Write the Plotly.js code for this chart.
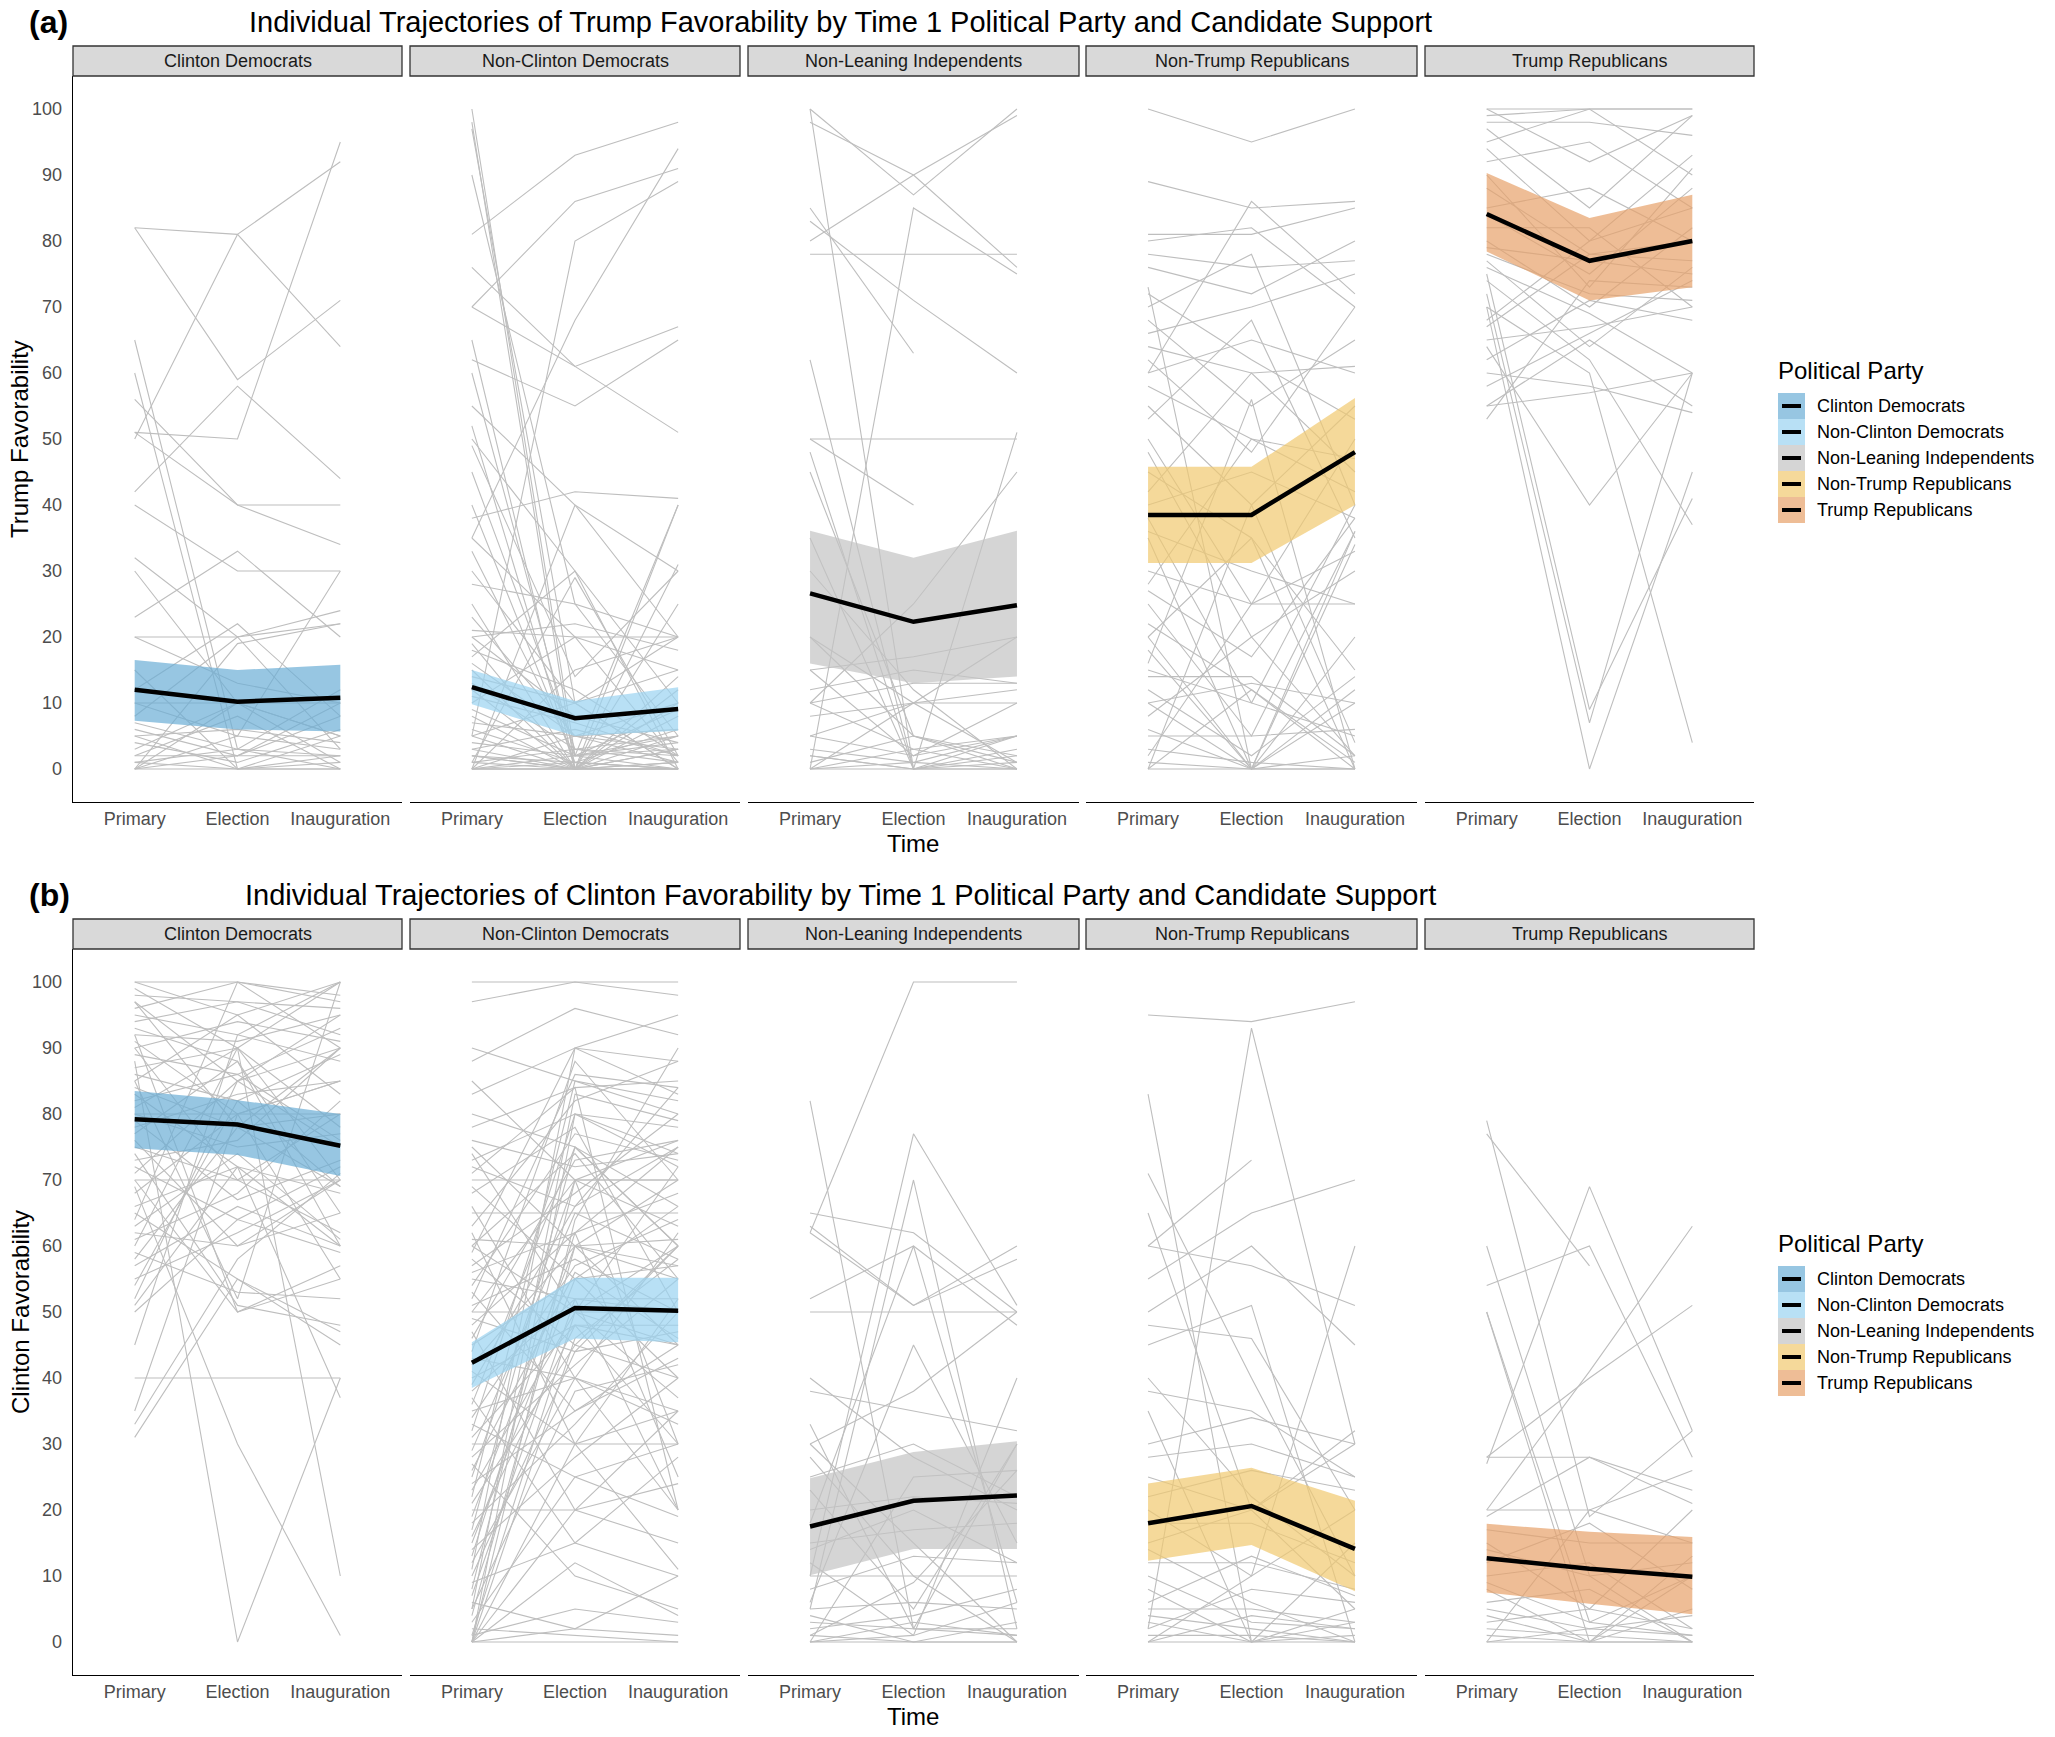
<!DOCTYPE html>
<html>
<head>
<meta charset="utf-8">
<script src="https://cdn.plot.ly/plotly-3.0.1.min.js"></script>
<style>
  body { margin: 0; background: #fff; }
  #chart { width: 2055px; height: 1737px; }
</style>
</head>
<body>
<div id="chart"></div>
<script>
// time points and facet groups
const timePoints = ["Primary", "Election", "Inauguration"];
const groups = ["Clinton Democrats", "Non-Clinton Democrats", "Non-Leaning Independents", "Non-Trump Republicans", "Trump Republicans"];
const yTicks = [0, 10, 20, 30, 40, 50, 60, 70, 80, 90, 100];

// (a) Trump favorability: model means and ribbons, per group
const trumpMean  = [[12.0, 10.2, 10.8], [12.4, 7.7, 9.1], [26.6, 22.3, 24.8], [38.5, 38.5, 48.0], [84.1, 77.0, 80.0]];
const trumpLower = [[7.3, 6.0, 5.7], [9.8, 5.0, 5.8], [16.0, 13.0, 14.0], [31.2, 31.2, 40.0], [78.4, 71.0, 73.0]];
const trumpUpper = [[16.5, 15.0, 15.8], [15.0, 10.3, 12.4], [36.1, 32.0, 36.1], [45.8, 45.8, 56.2], [90.3, 83.5, 87.0]];

// (b) Clinton favorability: model means and ribbons, per group
const clintonMean  = [[79.2, 78.4, 75.2], [42.3, 50.6, 50.2], [17.5, 21.4, 22.2], [18.0, 20.6, 14.1], [12.7, 11.1, 9.9]];
const clintonLower = [[74.8, 73.8, 70.6], [38.5, 46.0, 45.4], [10.1, 14.1, 14.1], [12.3, 14.7, 7.7], [7.5, 5.8, 4.2]];
const clintonUpper = [[83.5, 82.1, 80.0], [45.4, 55.2, 55.2], [24.8, 28.8, 30.4], [24.0, 26.4, 21.4], [17.9, 16.7, 15.9]];

// individual trajectories (Primary, Election, Inauguration)
const trumpClintonDems = [
  [82, 81, 64], [82, 59, 71], [51, 50, 95], [50, 81, 92], [65, 3, 2], [60, 0, 5], [56, 40, 40], [51, 40, 34],
  [42, 58, 44], [40, 30, 30], [32, 20, 22], [23, 33, 20], [20, 20, 24], [20, 13, 10], [12, 22, 8], [10, 5, 30],
  [8, 20, 3], [6, 2, 10], [5, 0, 2], [3, 10, 5], [2, 2, 2], [1, 0, 0], [0, 5, 3], [0, 0, 0], [0, 2, 8],
  [0, 10, 1], [1, 3, 12], [10, 10, 10], [5, 6, 4], [15, 0, 1], [0, 19, 22], [2, 8, 0], [30, 10, 5], [7, 3, 0], [4, 1, 6]
];
const trumpNonClintonDems = [
  [100, 2, 5], [98, 0, 3], [97, 10, 0], [90, 25, 20], [81, 93, 98], [70, 86, 91], [5, 80, 89], [35, 68, 94],
  [76, 61, 51], [62, 55, 65], [70, 61, 67], [55, 40, 20], [50, 30, 0], [49, 14, 30], [38, 42, 41], [35, 20, 15],
  [33, 2, 40], [30, 10, 20], [28, 25, 5], [25, 0, 31], [23, 5, 10], [21, 20, 20], [20, 8, 4], [19, 0, 12],
  [18, 12, 2], [17, 30, 10], [16, 5, 6], [15, 0, 0], [14, 10, 15], [13, 3, 5], [12, 0, 8], [11, 7, 2],
  [10, 20, 1], [9, 2, 9], [8, 0, 0], [7, 5, 3], [6, 1, 6], [5, 0, 14], [5, 10, 0], [4, 2, 4], [3, 0, 1],
  [3, 6, 2], [2, 1, 0], [2, 0, 5], [1, 3, 1], [1, 0, 0], [0, 0, 0], [0, 2, 3], [0, 0, 10], [0, 5, 1],
  [0, 1, 0], [0, 40, 30], [0, 15, 20], [1, 29, 2], [20, 22, 18], [65, 0, 3], [60, 2, 0], [52, 0, 1],
  [45, 3, 2], [40, 1, 0], [0, 0, 40], [2, 0, 25]
];
const trumpIndependents = [
  [100, 87, 100], [98, 90, 76], [100, 0, 2], [85, 63, null], [80, 90, 99], [78, 78, 78], [83, 71, 60],
  [0, 85, 75], [62, 0, 3], [50, 50, 50], [50, 40, null], [2, 0, 51], [10, 25, 45], [48, 0, 1], [45, 5, 0],
  [20, 10, 20], [15, 17, 20], [12, 15, 13], [10, 13, 13], [5, 10, 10], [2, 0, 0], [0, 0, 0], [0, 3, 5],
  [3, 1, 0], [1, 5, 2], [0, 10, 1], [5, 2, 5], [8, 10, 12], [10, 3, 0], [0, 1, 5], [15, 2, 10], [20, 5, 1],
  [30, 12, 0], [35, 0, 5]
];
const trumpNonTrumpReps = [
  [100, 95, 100], [89, 85, 86], [60, 86, 72], [81, 81, 85], [80, 82, 70], [78, 76, 77], [76, 72, 80],
  [73, 0, 10], [72, 62, 53], [70, 78, 40], [68, 55, 65], [66, 70, 75], [64, 60, 61], [62, 48, 70],
  [60, 65, 60], [58, 50, 47], [55, 40, 55], [53, 68, 35], [50, 25, 50], [48, 20, 30], [45, 35, 0],
  [42, 60, 45], [40, 45, 38], [38, 10, 40], [36, 30, 25], [35, 0, 20], [30, 25, 25], [28, 50, 42],
  [25, 5, 36], [22, 12, 0], [20, 35, 15], [18, 0, 34], [15, 10, 5], [14, 14, 2], [12, 2, 14], [10, 13, 10],
  [10, 0, 0], [8, 20, 2], [6, 0, 12], [5, 5, 6], [3, 1, 0], [2, 25, 33], [1, 0, 2], [0, 0, 0], [0, 12, 1],
  [0, 40, 4], [20, 0, 36], [27, 17, 38], [16, 56, 0]
];
const trumpTrumpReps = [
  [100, 100, 100], [100, 92, 99], [99, 100, 100], [98, 98, 96], [97, 85, 99], [95, 100, 90], [94, 80, 93],
  [92, 95, 85], [90, 73, 91], [88, 78, 77], [85, 88, 80], [84, 75, 88], [82, 82, 70], [80, 70, 82],
  [79, 77, 75], [78, 72, 71], [77, 64, 76], [76, 69, 60], [75, 9, 41], [74, 62, 37], [72, 7, 60],
  [70, 0, 45], [70, 60, 4], [68, 80, 85], [67, 78, 80], [65, 67, 70], [64, 40, 60], [62, 71, 68],
  [60, 58, 54], [58, 66, 74], [55, 57, 60], [55, 65, 55], [53, 74, 73]
];

const clintonClintonDems = [
  [100, 95, 100], [100, 100, 97], [99, 90, 100], [98, 97, 92], [97, 85, 95], [96, 100, 90], [95, 92, 88],
  [94, 97, 96], [93, 88, 60], [92, 91, 95], [91, 80, 85], [90, 94, 91], [90, 70, 80], [89, 86, 93],
  [88, 0, 40], [87, 90, 70], [86, 82, 89], [85, 95, 83], [84, 78, 80], [83, 72, 60], [82, 86, 76],
  [81, 90, 10], [80, 75, 77], [80, 80, 80], [79, 67, 73], [78, 83, 85], [77, 88, 65], [76, 60, 70],
  [75, 70, 62], [74, 51, 48], [73, 76, 90], [72, 64, 72], [71, 85, 75], [70, 50, 57], [70, 70, 70],
  [69, 30, 1], [68, 80, 55], [66, 72, 68], [65, 55, 47], [63, 74, 61], [62, 60, 65], [61, 68, 82],
  [60, 90, 78], [59, 53, 52], [58, 78, 90], [57, 66, 60], [55, 62, 70], [54, 82, 69], [52, 85, 90],
  [51, 72, 37], [50, 64, 59], [40, 40, 40], [33, 58, 71], [31, 55, 45], [35, 80, 85], [45, 92, 100],
  [64, 100, 98], [92, 50, 55], [85, 52, 100], [97, 78, 69]
];
const clintonNonClintonDems = [
  [100, 100, 100], [97, 100, 98], [90, 85, 80], [88, 96, 92], [85, 70, 76], [83, 90, 83], [80, 75, 60],
  [78, 84, 85], [76, 72, 74], [75, 60, 70], [74, 50, 45], [73, 80, 78], [72, 66, 75], [71, 84, 20],
  [70, 70, 70], [69, 55, 66], [68, 78, 50], [66, 40, 62], [65, 65, 65], [63, 82, 88], [62, 30, 35],
  [61, 60, 61], [60, 74, 55], [60, 50, 72], [59, 90, 95], [58, 45, 40], [57, 68, 80], [56, 62, 25],
  [55, 52, 52], [54, 77, 73], [53, 35, 45], [52, 86, 84], [51, 58, 50], [50, 50, 50], [50, 70, 30],
  [49, 44, 60], [48, 62, 68], [47, 20, 15], [46, 73, 76], [45, 55, 40], [44, 88, 70], [43, 40, 33],
  [42, 60, 57], [41, 30, 52], [40, 48, 45], [39, 66, 84], [38, 52, 20], [37, 15, 10], [36, 75, 60],
  [35, 40, 35], [34, 57, 64], [33, 25, 30], [32, 80, 74], [31, 48, 48], [30, 30, 30], [29, 65, 58],
  [28, 42, 55], [27, 10, 5], [26, 56, 46], [25, 70, 70], [24, 35, 43], [23, 50, 37], [22, 85, 82],
  [21, 45, 60], [20, 20, 24], [19, 60, 45], [18, 33, 50], [17, 75, 66], [16, 48, 30], [15, 55, 57],
  [14, 28, 40], [13, 62, 75], [12, 40, 20], [11, 90, 88], [10, 44, 47], [9, 15, 28], [8, 70, 63],
  [7, 52, 50], [6, 2, 10], [5, 38, 42], [5, 83, 79], [4, 60, 55], [3, 25, 19], [2, 1, 0], [1, 50, 60],
  [1, 5, 3], [0, 0, 0], [0, 2, 1], [0, 64, 90], [0, 20, 35], [0, 30, 11], [0, 80, 72], [0, 46, 58], [0, 12, 4]
];
const clintonIndependents = [
  [62, 100, 100], [82, 2, 30], [10, 77, 51], [5, 70, 2], [65, 62, 50], [62, 51, 60], [63, 51, 58],
  [50, 50, 50], [52, 60, 48], [38, 35, 32], [30, 38, 50], [28, 10, 0], [25, 30, 22], [23, 5, 30],
  [20, 22, 21], [18, 60, 6], [15, 17, 18], [14, 20, 12], [12, 1, 40], [10, 10, 10], [8, 13, 12],
  [5, 6, 5], [4, 0, 3], [3, 2, 1], [2, 4, 8], [1, 0, 0], [0, 0, 0], [0, 3, 1], [0, 1, 6], [6, 45, 15],
  [30, 15, 0], [33, 2, 2], [0, 25, 26], [40, 28, 20], [1, 9, 26]
];
const clintonNonTrumpReps = [
  [95, 94, 97], [2, 93, 30], [83, 0, 5], [71, 40, 10], [60, 73, null], [55, 65, 70], [60, 57, 51],
  [50, 60, 45], [45, 51, 0], [48, 46, 20], [38, 35, 25], [30, 34, 30], [25, 20, 32], [22, 26, 23],
  [20, 10, 60], [18, 18, 12], [15, 20, 5], [12, 12, 8], [10, 3, 2], [8, 0, 15], [6, 13, 7], [5, 5, 3],
  [4, 2, 0], [3, 0, 1], [2, 8, 6], [1, 1, 0], [0, 0, 0], [0, 4, 2], [0, 10, 20], [35, 0, 3],
  [40, 22, 10], [65, 20, 30], [28, 30, 25], [14, 6, 0]
];
const clintonTrumpReps = [
  [79, 19, 32], [77, 57, null], [27, 69, 32], [60, 10, 0], [54, 60, 28], [50, 3, 1], [50, 0, 10],
  [20, 41, 63], [28, 40, 51], [28, 28, 21], [20, 20, 26], [19, 28, 23], [17, 15, 15], [15, 5, 20],
  [14, 10, 12], [12, 18, 8], [10, 12, 2], [9, 3, 10], [8, 0, 5], [6, 8, 0], [5, 2, 4], [4, 0, 0],
  [3, 5, 2], [2, 1, 0], [1, 0, 13], [0, 0, 0], [0, 2, 1], [0, 20, 15]
];

const trumpTraj = [trumpClintonDems, trumpNonClintonDems, trumpIndependents, trumpNonTrumpReps, trumpTrumpReps];
const clintonTraj = [clintonClintonDems, clintonNonClintonDems, clintonIndependents, clintonNonTrumpReps, clintonTrumpReps];

// styling
const W = 2055, H = 1737;
const bandColors = ["rgba(107,174,214,0.7)", "rgba(154,211,241,0.7)", "rgba(195,195,195,0.7)", "rgba(241,201,111,0.7)", "rgba(231,161,106,0.7)"];
const panelX = [[73, 402], [410, 740], [748, 1079], [1086, 1417], [1425, 1754]];
const rowOffset = [0, 873];
const FONT = "Liberation Sans, Arial, sans-serif";

const px = x => x / W;
const py = y => 1 - y / H;

const data = [];
const layout = {
  width: W, height: H,
  margin: { t: 0, l: 0, r: 0, b: 0 },
  paper_bgcolor: "#fff",
  plot_bgcolor: "rgba(0,0,0,0)",
  showlegend: false,
  font: { family: FONT },
  shapes: [],
  annotations: []
};

function trajTrace(rows, xa, ya) {
  const xs = [], ys = [];
  rows.forEach(r => {
    r.forEach((v, i) => { xs.push(timePoints[i]); ys.push(v); });
    xs.push(null); ys.push(null);
  });
  return {
    type: "scatter", mode: "lines", x: xs, y: ys, xaxis: xa, yaxis: ya,
    connectgaps: false, hoverinfo: "skip",
    line: { color: "#BEBEBE", width: 1.1 }
  };
}

[[trumpTraj, trumpMean, trumpLower, trumpUpper], [clintonTraj, clintonMean, clintonLower, clintonUpper]].forEach((set, row) => {
  const [traj, mean, lower, upper] = set;
  const off = rowOffset[row];
  groups.forEach((g, k) => {
    const n = row * 5 + k + 1;
    const xa = "x" + (n === 1 ? "" : n), ya = "y" + (n === 1 ? "" : n);
    const xKey = "xaxis" + (n === 1 ? "" : n), yKey = "yaxis" + (n === 1 ? "" : n);

    data.push(trajTrace(traj[k], xa, ya));
    data.push({
      type: "scatter", mode: "lines", xaxis: xa, yaxis: ya, hoverinfo: "skip",
      x: timePoints.concat(timePoints.slice().reverse()),
      y: upper[k].concat(lower[k].slice().reverse()),
      fill: "toself", fillcolor: bandColors[k], line: { width: 0 }
    });
    data.push({
      type: "scatter", mode: "lines", xaxis: xa, yaxis: ya, x: timePoints, y: mean[k],
      line: { color: "#000", width: 4.5 }, name: g
    });

    const [x0, x1] = panelX[k];
    layout[xKey] = {
      domain: [px(x0), px(x1)], anchor: ya, type: "category",
      categoryorder: "array", categoryarray: timePoints,
      range: [-0.6, 2.6], showgrid: false, zeroline: false,
      showline: true, linecolor: "#000", linewidth: 1.3, ticks: "",
      tickfont: { size: 18, color: "#4D4D4D", family: FONT }, fixedrange: true
    };
    layout[yKey] = {
      domain: [py(802 + off), py(76 + off)], anchor: xa,
      range: [-5, 105], showgrid: false, zeroline: false,
      tickvals: yTicks, ticks: "", showticklabels: k === 0, ticklabelstandoff: 6,
      showline: k === 0, linecolor: "#000", linewidth: 1.3,
      tickfont: { size: 18, color: "#4D4D4D", family: FONT }, fixedrange: true
    };

    // facet strip
    layout.shapes.push({
      type: "rect", xref: "paper", yref: "paper",
      x0: px(x0), x1: px(x1), y0: py(76 + off), y1: py(46 + off),
      fillcolor: "#D9D9D9", line: { color: "#333", width: 1.3 }
    });
    layout.annotations.push({
      xref: "paper", yref: "paper", x: px((x0 + x1) / 2), y: py(61 + off),
      text: g, showarrow: false, xanchor: "center", yanchor: "middle",
      font: { size: 18, color: "#1A1A1A", family: FONT }
    });
  });

  // titles and axis labels
  layout.annotations.push({
    xref: "paper", yref: "paper", x: px(27), y: py(22 + off), xanchor: "left", yanchor: "middle",
    text: "<b>" + (row === 0 ? "(a)" : "(b)") + "</b>", showarrow: false,
    font: { size: 32, color: "#000", family: FONT }
  });
  layout.annotations.push({
    xref: "paper", yref: "paper", x: px(840), y: py(22 + off), xanchor: "center", yanchor: "middle",
    text: "Individual Trajectories of " + (row === 0 ? "Trump" : "Clinton") + " Favorability by Time 1 Political Party and Candidate Support",
    showarrow: false, font: { size: 29, color: "#000", family: FONT }
  });
  layout.annotations.push({
    xref: "paper", yref: "paper", x: px(20), y: py(439 + off), xanchor: "center", yanchor: "middle",
    text: (row === 0 ? "Trump" : "Clinton") + " Favorability", textangle: -90, showarrow: false,
    font: { size: 24, color: "#000", family: FONT }
  });
  layout.annotations.push({
    xref: "paper", yref: "paper", x: px(913), y: py(843 + off), xanchor: "center", yanchor: "middle",
    text: "Time", showarrow: false, font: { size: 24, color: "#000", family: FONT }
  });

  // legend
  layout.annotations.push({
    xref: "paper", yref: "paper", x: px(1776), y: py(370 + off), xanchor: "left", yanchor: "middle",
    text: "Political Party", showarrow: false, font: { size: 24, color: "#000", family: FONT }
  });
  groups.forEach((g, k) => {
    const top = 393 + off + k * 26;
    layout.shapes.push({
      type: "rect", xref: "paper", yref: "paper",
      x0: px(1778), x1: px(1805), y0: py(top + 26), y1: py(top),
      fillcolor: bandColors[k], line: { width: 0 }
    });
    layout.shapes.push({
      type: "line", xref: "paper", yref: "paper",
      x0: px(1782), x1: px(1801), y0: py(top + 13), y1: py(top + 13),
      line: { color: "#000", width: 4 }
    });
    layout.annotations.push({
      xref: "paper", yref: "paper", x: px(1815), y: py(top + 13), xanchor: "left", yanchor: "middle",
      text: g, showarrow: false, font: { size: 18, color: "#000", family: FONT }
    });
  });
});

Plotly.newPlot("chart", data, layout, { displayModeBar: false, staticPlot: true });
</script>
</body>
</html>
